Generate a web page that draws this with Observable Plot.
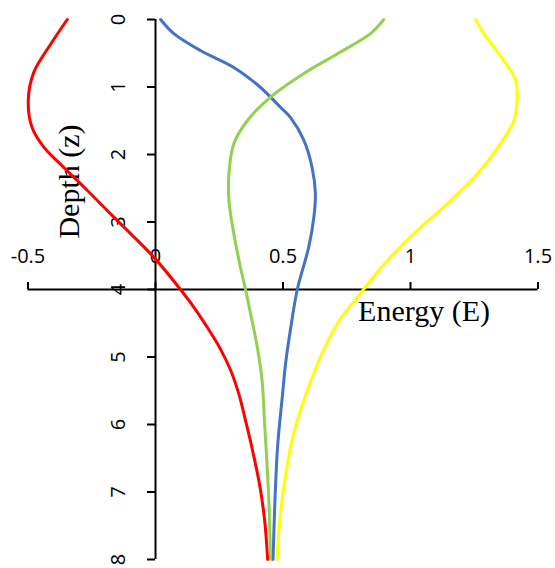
<!DOCTYPE html>
<html>
<head>
<meta charset="utf-8">
<script src="https://cdn.jsdelivr.net/npm/d3@7"></script>
<script src="https://cdn.jsdelivr.net/npm/@observablehq/plot@0.6"></script>
<style>
  html, body { margin: 0; padding: 0; background: #fff; }
</style>
</head>
<body>
<div id="chart"></div>
<script>
// Depth (z) and Energy (E) samples
const redDepth    = [0, 0.36, 0.78, 1.2, 1.6, 1.89, 2.19, 2.53, 2.88, 3.22, 3.55, 4.0, 4.26, 4.56, 4.85, 5.2, 5.55, 5.94, 6.34, 6.93, 7.42, 8.0];
const redEnergy   = [-0.346, -0.41, -0.477, -0.499, -0.484, -0.438, -0.36, -0.268, -0.176, -0.085, 0.0, 0.098, 0.150, 0.203, 0.25, 0.295, 0.327, 0.353, 0.378, 0.41, 0.428, 0.44];

const blueDepth   = [0, 0.21, 0.46, 0.71, 1.0, 1.15, 1.3, 1.45, 1.79, 2.19, 2.58, 2.93, 3.37, 4.0, 4.6, 5.1, 5.6, 6.09, 6.43, 7.17, 8.0];
const blueEnergy  = [0.02, 0.072, 0.176, 0.307, 0.41, 0.451, 0.49, 0.529, 0.582, 0.614, 0.627, 0.621, 0.601, 0.556, 0.529, 0.51, 0.497, 0.484, 0.477, 0.468, 0.461];

const greenDepth  = [0, 0.21, 0.51, 0.8, 1.15, 1.5, 1.84, 2.29, 2.68, 3.17, 3.67, 4.0, 4.36, 4.85, 5.35, 6.0, 6.43, 7.17, 8.0];
const greenEnergy = [0.895, 0.843, 0.712, 0.582, 0.451, 0.36, 0.307, 0.288, 0.288, 0.307, 0.333, 0.353, 0.373, 0.399, 0.418, 0.428, 0.435, 0.445, 0.451];

const yellowDepth  = [0, 0.21, 0.61, 0.9, 1.2, 1.5, 1.84, 2.29, 2.73, 3.17, 3.57, 3.87, 4.09, 4.51, 5.0, 5.5, 5.94, 6.24, 6.93, 7.57, 8.0];
const yellowEnergy = [1.255, 1.288, 1.366, 1.412, 1.418, 1.405, 1.353, 1.262, 1.144, 1.013, 0.909, 0.843, 0.797, 0.712, 0.647, 0.595, 0.556, 0.535, 0.503, 0.484, 0.477];

const seriesNames  = ["Series 1", "Series 2", "Series 3", "Series 4"];
const seriesColors = ["#FF0000", "#4472C4", "#92D050", "#FFFF00"];

const xTicks      = [-0.5, 0, 0.5, 1, 1.5];
const xTickLabels = ["-0.5", "0", "0.5", "1", "1.5"];
const yTicks      = [0, 1, 2, 3, 4, 5, 6, 7, 8];
const yTickLabels = ["0", "1", "2", "3", "4", "5", "6", "7", "8"];
const xTitle = "Energy (E)";
const yTitle = "Depth (z)";
const xAxisAt = 4;      // the energy axis crosses depth 4
const yAxisAt = 0;      // the depth axis crosses energy 0
const xTitleAt = {x: 1.053, y: 4};
const yTitleAt = {x: -0.337, y: 2.4};

const rows = [];
[[redDepth, redEnergy], [blueDepth, blueEnergy], [greenDepth, greenEnergy], [yellowDepth, yellowEnergy]]
  .forEach(([ds, es], k) => ds.forEach((d, i) => rows.push({series: seriesNames[k], depth: d, energy: es[i]})));

const serif = "'Liberation Serif', 'Times New Roman', serif";
const sans = "'Open Sans', 'Liberation Sans', sans-serif";

const chart = Plot.plot({
  width: 555,
  height: 568,
  marginLeft: 27.5,
  marginRight: 17.5,
  marginTop: 19,
  marginBottom: 9,
  style: {background: "#fff", fontFamily: sans, overflow: "visible"},
  x: {domain: [-0.5, 1.5], axis: null},
  y: {domain: [0, 8], reverse: true, axis: null},
  color: {domain: seriesNames, range: seriesColors},
  marks: [
    // energy axis (horizontal, at depth 4)
    Plot.ruleY([xAxisAt], {x1: xTicks[0], x2: xTicks[xTicks.length - 1], stroke: "#000", strokeWidth: 2}),
    Plot.ruleX(xTicks, {x: d => d, y1: xAxisAt, y2: xAxisAt, insetTop: -7, insetBottom: 0, stroke: "#000", strokeWidth: 2}),
    Plot.text(xTicks, {x: d => d, y: xAxisAt, dy: -33, text: (d, i) => xTickLabels[i], fontSize: 20, fill: "#000", fontFamily: sans}),
    // depth axis (vertical, at energy 0)
    Plot.ruleX([yAxisAt], {y1: yTicks[0], y2: yTicks[yTicks.length - 1], stroke: "#000", strokeWidth: 2}),
    Plot.ruleY(yTicks, {y: d => d, x1: yAxisAt, x2: yAxisAt, insetLeft: -8, insetRight: 0, stroke: "#000", strokeWidth: 2}),
    Plot.text(yTicks, {x: yAxisAt, y: d => d, dx: -37, rotate: -90, text: (d, i) => yTickLabels[i], fontSize: 20, fill: "#000", fontFamily: sans}),
    // titles
    Plot.text([xTitle], {x: xTitleAt.x, y: xTitleAt.y, dy: 22, text: d => d, fontSize: 30, fontFamily: serif, fill: "#000"}),
    Plot.text([yTitle], {x: yTitleAt.x, y: yTitleAt.y, rotate: -90, text: d => d, fontSize: 30, fontFamily: serif, fill: "#000"}),
    // curves
    Plot.line(rows, {x: "energy", y: "depth", z: "series", stroke: "series", strokeWidth: 3, curve: "catmull-rom"})
  ]
});
document.getElementById("chart").appendChild(chart);
</script>
</body>
</html>
